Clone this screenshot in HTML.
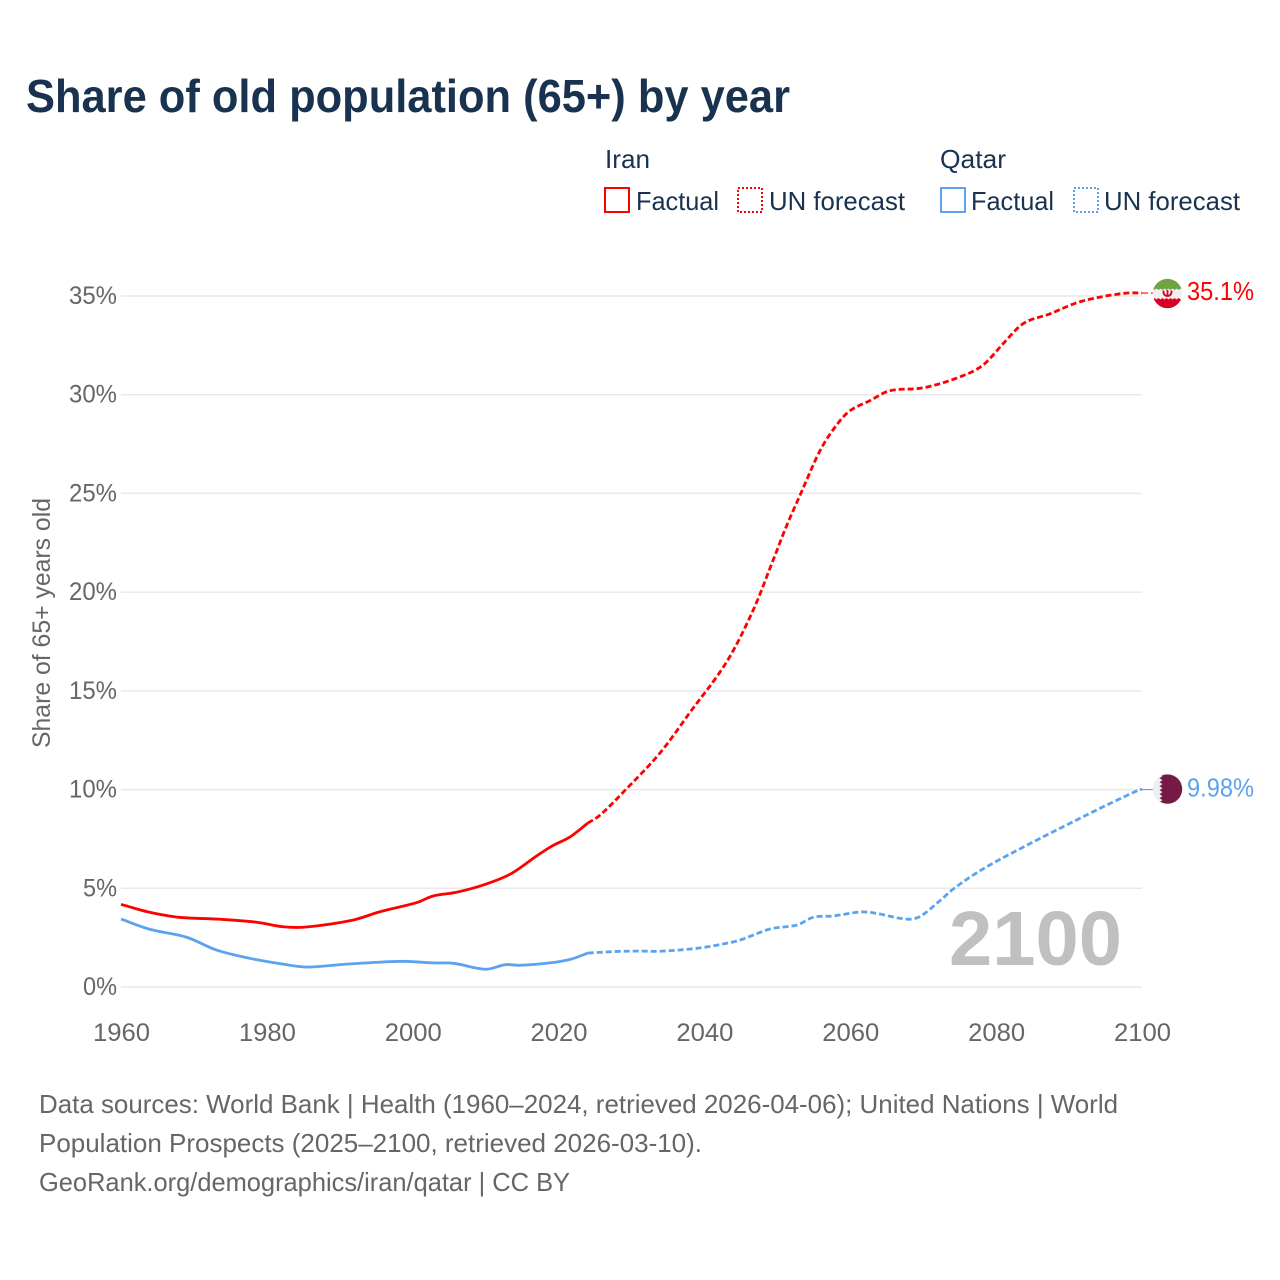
<!DOCTYPE html>
<html lang="en">
<head>
<meta charset="utf-8">
<title>Share of old population (65+) by year</title>
<style>
html,body{margin:0;padding:0;background:#fff;}
svg{display:block;}
text{font-family:"Liberation Sans",sans-serif;}
</style>
</head>
<body>
<svg id="chart" xmlns="http://www.w3.org/2000/svg" width="1280" height="1280" viewBox="0 0 1280 1280">
  <rect x="0" y="0" width="1280" height="1280" fill="#fff"/>
  <text x="26" y="112" font-size="46" font-weight="700" fill="#18324f" textLength="764" lengthAdjust="spacingAndGlyphs">Share of old population (65+) by year</text>

  <g font-size="26" fill="#18324f">
    <text x="605" y="168" textLength="45" lengthAdjust="spacingAndGlyphs">Iran</text>
    <text x="940" y="168" textLength="66" lengthAdjust="spacingAndGlyphs">Qatar</text>
    <rect x="605" y="188" width="24" height="24" fill="none" stroke="#ff0000" stroke-width="2"/>
    <text x="636" y="210" textLength="83" lengthAdjust="spacingAndGlyphs">Factual</text>
    <rect x="738" y="188" width="24" height="24" fill="none" stroke="#ff0000" stroke-width="2" stroke-dasharray="2 2"/>
    <text x="769" y="210" textLength="136" lengthAdjust="spacingAndGlyphs">UN forecast</text>
    <rect x="941" y="188" width="24" height="24" fill="none" stroke="#5ba3ef" stroke-width="2"/>
    <text x="971" y="210" textLength="83" lengthAdjust="spacingAndGlyphs">Factual</text>
    <rect x="1074" y="188" width="24" height="24" fill="none" stroke="#5ba3ef" stroke-width="2" stroke-dasharray="2 2"/>
    <text x="1104" y="210" textLength="136" lengthAdjust="spacingAndGlyphs">UN forecast</text>
  </g>

  <g id="grid"></g>
  <g id="yticks" font-size="25" fill="#666"></g>
  <g id="xticks" font-size="25" fill="#666"></g>
  <text transform="translate(50,748) rotate(-90)" font-size="25" fill="#666" textLength="250" lengthAdjust="spacingAndGlyphs">Share of 65+ years old</text>
  <text x="949" y="965" font-size="77" font-weight="700" fill="#c0c0c0" textLength="173" lengthAdjust="spacingAndGlyphs">2100</text>
  <g id="series"></g>

  <defs>
    <clipPath id="flagClip"><circle cx="0" cy="0" r="14.7"/></clipPath>
  </defs>
  <g id="flag-iran">
    <g clip-path="url(#flagClip)">
      <rect x="-15" y="-15" width="30" height="30" fill="#f0f0f0"/>
      <rect x="-15" y="-15" width="30" height="10" fill="#6da544"/>
      <rect x="-15" y="6" width="30" height="9" fill="#d80027"/>
      <path d="M-15,6 L-13,4.5 L-11,6 L-9,4.5 L-7,6 L-5,4.5 L-3,6 L-1,4.5 L1,6 L3,4.5 L5,6 L7,4.5 L9,6 L11,4.5 L13,6 L15,4.5 L15,8 L-15,8 Z" fill="#d80027"/>
      <path d="M-15,-5 L-13,-3.5 L-11,-5 L-9,-3.5 L-7,-5 L-5,-3.5 L-3,-5 L-1,-3.5 L1,-5 L3,-3.5 L5,-5 L7,-3.5 L9,-5 L11,-3.5 L13,-5 L15,-3.5 L15,-7 L-15,-7 Z" fill="#6da544"/>
      <path d="M-4,-3 Q-4.5,2 0,2.5 Q4.5,2 4,-3 M0,-3.5 L0,2.5" fill="none" stroke="#d80027" stroke-width="1.8"/>
    </g>
  </g>
  <g id="flag-qatar">
    <g clip-path="url(#flagClip)">
      <rect x="-15" y="-15" width="30" height="30" fill="#eeeeee"/>
      <path d="M-8,-15 L-5,-13 L-8,-11 L-5,-9 L-8,-7 L-5,-5 L-8,-3 L-5,-1 L-8,1 L-5,3 L-8,5 L-5,7 L-8,9 L-5,11 L-8,13 L-5,15 L15,15 L15,-15 Z" fill="#751a47"/>
    </g>
  </g>
  <text id="end-label-iran" x="1187" font-size="26" fill="#ff0000" textLength="67" lengthAdjust="spacingAndGlyphs"></text>
  <text id="end-label-qatar" x="1187" font-size="26" fill="#5ba3ef" textLength="67" lengthAdjust="spacingAndGlyphs"></text>

  <g font-size="26" fill="#666">
    <text x="39" y="1113" textLength="1079" lengthAdjust="spacingAndGlyphs">Data sources: World Bank | Health (1960–2024, retrieved 2026-04-06); United Nations | World</text>
    <text x="39" y="1152" textLength="663" lengthAdjust="spacingAndGlyphs">Population Prospects (2025–2100, retrieved 2026-03-10).</text>
    <text x="39" y="1191" textLength="531" lengthAdjust="spacingAndGlyphs">GeoRank.org/demographics/iran/qatar | CC BY</text>
  </g>
</svg>
<script>
const xTickYears = [1960, 1980, 2000, 2020, 2040, 2060, 2080, 2100];
const yTickValues = [0, 5, 10, 15, 20, 25, 30, 35];

const iranFactualYears = [1960, 1962, 1964, 1968, 1973.6, 1978.6, 1982.2, 1985.4, 1991.8, 1995.5, 2000.5, 2002.8, 2006, 2009.7, 2013.4, 2017, 2019.1, 2021.6, 2024];
const iranFactualValues = [4.19, 3.97, 3.78, 3.53, 3.43, 3.28, 3.05, 3.04, 3.39, 3.81, 4.27, 4.61, 4.8, 5.17, 5.72, 6.64, 7.14, 7.61, 8.3];
const iranForecastYears = [2024, 2025.7, 2028.9, 2033.9, 2038, 2043.1, 2046.7, 2049.4, 2051.2, 2053.1, 2055.9, 2058.3, 2060, 2062.7, 2065.4, 2070, 2075, 2078.2, 2081, 2083.7, 2087.4, 2091, 2094.3, 2098, 2100];
const iranForecastValues = [8.3, 8.71, 9.88, 11.85, 13.9, 16.5, 19.1, 21.6, 23.3, 24.9, 27.2, 28.55, 29.2, 29.7, 30.2, 30.35, 30.9, 31.5, 32.6, 33.6, 34.1, 34.65, 34.95, 35.15, 35.15];

const qatarFactualYears = [1960, 1964, 1969, 1973.1, 1977.7, 1982.2, 1985.4, 1990.9, 1994.1, 1998.7, 2002.8, 2005.6, 2010, 2012.7, 2014.7, 2018.8, 2021.8, 2024];
const qatarFactualValues = [3.44, 2.92, 2.52, 1.87, 1.45, 1.16, 1.01, 1.16, 1.23, 1.3, 1.22, 1.2, 0.9, 1.13, 1.1, 1.22, 1.42, 1.72];
const qatarForecastYears = [2024, 2028, 2031.2, 2033.9, 2039, 2042.6, 2044.9, 2049, 2052.7, 2054.9, 2057.7, 2061.3, 2063.1, 2067.7, 2069.5, 2072.3, 2074.1, 2078.2, 2085.1, 2090.5, 2095.2, 2099.7, 2100];
const qatarForecastValues = [1.72, 1.8, 1.82, 1.81, 1.96, 2.18, 2.38, 2.94, 3.14, 3.53, 3.6, 3.8, 3.76, 3.44, 3.56, 4.37, 4.96, 5.98, 7.35, 8.36, 9.22, 10.0, 10.0];

const iranEndLabel = "35.1%";
const qatarEndLabel = "9.98%";

const NS = "http://www.w3.org/2000/svg";
const xDomain = [1960, 2100];
const xRange = [121, 1142];
const yDomain = [0, 35];
const yRange = [987, 296];
function xScale(v) { return xRange[0] + (v - xDomain[0]) / (xDomain[1] - xDomain[0]) * (xRange[1] - xRange[0]); }
function yScale(v) { return yRange[0] + (v - yDomain[0]) / (yDomain[1] - yDomain[0]) * (yRange[1] - yRange[0]); }

function smoothPath(years, values) {
  const px = years.map(xScale);
  const py = values.map(yScale);
  const n = px.length;
  const m = px.map(function (_, i) {
    const a = Math.max(0, i - 1);
    const b = Math.min(n - 1, i + 1);
    return (py[b] - py[a]) / (px[b] - px[a]);
  });
  let d = "M" + px[0].toFixed(2) + "," + py[0].toFixed(2);
  for (let i = 0; i < n - 1; i++) {
    const h = (px[i + 1] - px[i]) / 3;
    d += " C" + (px[i] + h).toFixed(2) + "," + (py[i] + m[i] * h).toFixed(2) +
      " " + (px[i + 1] - h).toFixed(2) + "," + (py[i + 1] - m[i + 1] * h).toFixed(2) +
      " " + px[i + 1].toFixed(2) + "," + py[i + 1].toFixed(2);
  }
  return d;
}

const grid = document.getElementById("grid");
const yticks = document.getElementById("yticks");
const xticks = document.getElementById("xticks");
const series = document.getElementById("series");

yTickValues.forEach(function (v) {
  const line = document.createElementNS(NS, "line");
  line.setAttribute("x1", xRange[0]);
  line.setAttribute("x2", xRange[1]);
  line.setAttribute("y1", yScale(v));
  line.setAttribute("y2", yScale(v));
  line.setAttribute("stroke", "#e9e9e9");
  line.setAttribute("stroke-width", "1.5");
  
  
  grid.appendChild(line);

  const label = document.createElementNS(NS, "text");
  label.setAttribute("x", 117);
  label.setAttribute("y", yScale(v) + 8);
  label.setAttribute("text-anchor", "end");
  label.setAttribute("textLength", v >= 10 ? 48 : 34);
  label.setAttribute("lengthAdjust", "spacingAndGlyphs");
  label.textContent = v + "%";
  
  
  yticks.appendChild(label);
});

xTickYears.forEach(function (y) {
  const label = document.createElementNS(NS, "text");
  label.setAttribute("x", xScale(y) + 0.5);
  label.setAttribute("y", 1041);
  label.setAttribute("text-anchor", "middle");
  label.setAttribute("textLength", 57);
  label.setAttribute("lengthAdjust", "spacingAndGlyphs");
  label.textContent = y;
  
  
  xticks.appendChild(label);
});

const qatarFactualPath = document.createElementNS(NS, "path");
qatarFactualPath.setAttribute("d", smoothPath(qatarFactualYears, qatarFactualValues));
qatarFactualPath.setAttribute("fill", "none");
qatarFactualPath.setAttribute("stroke", "#5ba3ef");
qatarFactualPath.setAttribute("stroke-width", "2.8");


series.appendChild(qatarFactualPath);

const qatarForecastPath = document.createElementNS(NS, "path");
qatarForecastPath.setAttribute("d", smoothPath(qatarForecastYears, qatarForecastValues));
qatarForecastPath.setAttribute("fill", "none");
qatarForecastPath.setAttribute("stroke", "#5ba3ef");
qatarForecastPath.setAttribute("stroke-width", "2.8");
qatarForecastPath.setAttribute("stroke-dasharray", "6 3");


series.appendChild(qatarForecastPath);

const iranFactualPath = document.createElementNS(NS, "path");
iranFactualPath.setAttribute("d", smoothPath(iranFactualYears, iranFactualValues));
iranFactualPath.setAttribute("fill", "none");
iranFactualPath.setAttribute("stroke", "#ff0000");
iranFactualPath.setAttribute("stroke-width", "2.8");


series.appendChild(iranFactualPath);

const iranForecastPath = document.createElementNS(NS, "path");
iranForecastPath.setAttribute("d", smoothPath(iranForecastYears, iranForecastValues));
iranForecastPath.setAttribute("fill", "none");
iranForecastPath.setAttribute("stroke", "#ff0000");
iranForecastPath.setAttribute("stroke-width", "2.8");
iranForecastPath.setAttribute("stroke-dasharray", "6 3");


series.appendChild(iranForecastPath);

const iranEndY = yScale(iranForecastValues[iranForecastValues.length - 1]);
const qatarEndY = yScale(qatarForecastValues[qatarForecastValues.length - 1]);

const iranConnector = document.createElementNS(NS, "line");
iranConnector.setAttribute("x1", xRange[1]);
iranConnector.setAttribute("x2", xRange[1] + 12);
iranConnector.setAttribute("y1", iranEndY);
iranConnector.setAttribute("y2", iranEndY);
iranConnector.setAttribute("stroke", "#ff0000");
iranConnector.setAttribute("stroke-width", "1.2");
iranConnector.setAttribute("stroke-dasharray", "6 3");


series.appendChild(iranConnector);

const qatarConnector = document.createElementNS(NS, "line");
qatarConnector.setAttribute("x1", xRange[1]);
qatarConnector.setAttribute("x2", xRange[1] + 12);
qatarConnector.setAttribute("y1", qatarEndY);
qatarConnector.setAttribute("y2", qatarEndY);
qatarConnector.setAttribute("stroke", "#5ba3ef");
qatarConnector.setAttribute("stroke-width", "1.2");


series.appendChild(qatarConnector);

document.getElementById("flag-iran").setAttribute("transform", "translate(1167.5," + (iranEndY + 0.5) + ")");
document.getElementById("flag-qatar").setAttribute("transform", "translate(1167.5," + (qatarEndY - 0.5) + ")");

const iranLabelEl = document.getElementById("end-label-iran");
iranLabelEl.textContent = iranEndLabel;
iranLabelEl.setAttribute("y", iranEndY + 7);
const qatarLabelEl = document.getElementById("end-label-qatar");
qatarLabelEl.textContent = qatarEndLabel;
qatarLabelEl.setAttribute("y", qatarEndY + 7);
</script>
</body>
</html>
